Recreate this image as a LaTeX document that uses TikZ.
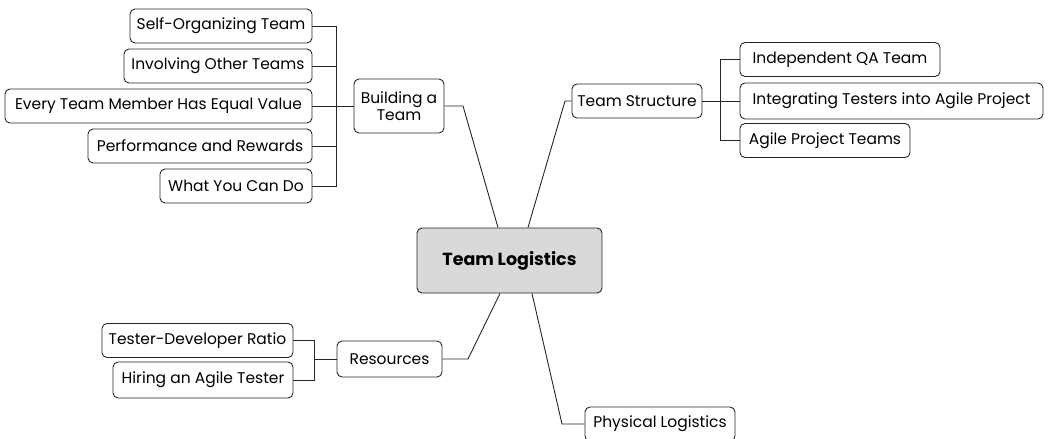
\documentclass[tikz,border=0pt]{standalone}
\usepackage{fontspec}
\setmainfont{Poppins}
\begin{document}
\begin{tikzpicture}[x=1pt,y=-1pt,
  box/.style={draw=black!85, line width=0.9pt, rounded corners=5pt, fill=white,
    inner sep=0pt, minimum height=34pt, align=center, font=\fontsize{15.5}{17}\selectfont},
  link/.style={draw=black!85, line width=0.9pt}]
\useasboundingbox (0,0) rectangle (1050,439);
% central
\node[box, fill=black!15, minimum width=185pt, minimum height=65pt, font=\fontsize{17.5}{20}\selectfont\bfseries] (tl) at (509.5,260.5) {Team Logistics};
% building a team
\node[box, minimum width=90pt, minimum height=54pt] (bat) at (399,106) {Building a\\Team};
\node[box, minimum width=182pt] (sot) at (221,26) {Self-Organizing Team};
\node[box, minimum width=188pt] (iot) at (218,66) {Involving Other Teams};
\node[box, minimum width=307pt] (etm) at (158.5,106) {Every Team Member Has Equal Value};
\node[box, minimum width=224pt] (par) at (200,146) {Performance and Rewards};
\node[box, minimum width=152pt] (wyc) at (236,186) {What You Can Do};
% team structure
\node[box, minimum width=130pt] (ts) at (637,101) {Team Structure};
\node[box, minimum width=200pt] (iqa) at (840,59.5) {Independent QA Team};
\node[box, minimum width=303pt, minimum height=36pt] (itap) at (891.5,101) {Integrating Testers into Agile Project};
\node[box, minimum width=170pt] (apt) at (825,140.5) {Agile Project Teams};
% resources
\node[box, minimum width=105pt, minimum height=36pt] (res) at (389.5,359) {Resources};
\node[box, minimum width=191pt] (tdr) at (197.5,340.5) {Tester-Developer Ratio};
\node[box, minimum width=180pt, minimum height=36pt] (hat) at (203,380) {Hiring an Agile Tester};
% physical
\node[box, minimum width=150pt] (pl) at (660,424) {Physical Logistics};
% coordinates
\coordinate (bb) at (336,106);
\coordinate (tsb) at (720,101);
\coordinate (rb) at (314,359);
\coordinate (k1) at (463,106);
\coordinate (k2) at (565,101);
\coordinate (k3) at (468,359);
\coordinate (k4) at (562,424);
% building connectors
\draw[link] (sot.east) -| (bb);
\draw[link] (wyc.east) -| (bb);
\draw[link] (iot.east) -- (iot.east -| bb);
\draw[link] (etm.east) -- (bat.west);
\draw[link] (par.east) -- (par.east -| bb);
% team structure connectors
\draw[link] (ts.east) -- (itap.west);
\draw[link] (iqa.west) -| (tsb);
\draw[link] (apt.west) -| (tsb);
% resources connectors
\draw[link] (tdr.east) -| (rb);
\draw[link] (hat.east) -| (rb);
\draw[link] (rb) -- (res.west);
% main connectors
\draw[link] (bat.east) -- (k1) -- (tl.north -| 498,0);
\draw[link] (tl.north -| 528,0) -- (k2) -- (ts.west);
\draw[link] (res.east) -- (k3) -- (tl.south -| 500,0);
\draw[link] (tl.south -| 532,0) -- (k4) -- (pl.west);
\end{tikzpicture}
\end{document}
